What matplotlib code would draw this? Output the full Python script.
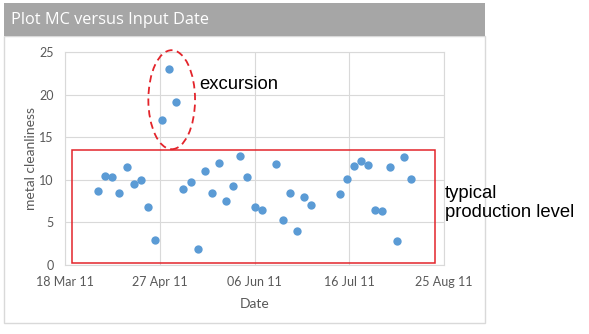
import matplotlib
matplotlib.use('Agg')
import matplotlib.pyplot as plt
import matplotlib.dates as mdates
from matplotlib.patches import Rectangle, Ellipse
import pandas as pd

# data
dates = ['2011-04-01', '2011-04-04', '2011-04-07', '2011-04-10', '2011-04-13', '2011-04-16',
         '2011-04-19', '2011-04-22', '2011-04-25', '2011-04-28', '2011-05-01', '2011-05-04',
         '2011-05-07', '2011-05-10', '2011-05-13', '2011-05-16', '2011-05-19', '2011-05-22',
         '2011-05-25', '2011-05-28', '2011-05-31', '2011-06-03', '2011-06-06', '2011-06-09',
         '2011-06-15', '2011-06-18', '2011-06-21', '2011-06-24', '2011-06-27', '2011-06-30',
         '2011-07-12', '2011-07-15', '2011-07-18', '2011-07-21', '2011-07-24', '2011-07-27',
         '2011-07-30', '2011-08-02', '2011-08-05', '2011-08-08', '2011-08-11']
cleanliness = [8.7, 10.5, 10.3, 8.4, 11.55, 9.5, 10.0, 6.8, 2.9, 17.0, 23.0, 19.1,
               8.9, 9.7, 1.9, 11.0, 8.4, 12.0, 7.5, 9.3, 12.85, 10.3, 6.8, 6.5,
               11.8, 5.25, 8.45, 3.95, 8.0, 7.1, 8.3, 10.15, 11.6, 12.25, 11.7, 6.4,
               6.3, 11.45, 2.85, 12.7, 10.1]
x_ticks = ['2011-03-18', '2011-04-27', '2011-06-06', '2011-07-16', '2011-08-25']
y_ticks = [0, 5, 10, 15, 20, 25]

W, H = 589, 334
fig = plt.figure(figsize=(W / 100, H / 100), dpi=100)


def px(x0, y0, x1, y1):
    """ pixel box (top-left origin) -> figure fraction rect """
    return [x0 / W, 1 - y1 / H, (x1 - x0) / W, (y1 - y0) / H]


# screenshot frame + grey title bar
fig.patches.append(Rectangle((4 / W, 1 - 323 / H), 481 / W, 287 / H, transform=fig.transFigure,
                             facecolor='white', edgecolor='#d9d9d9', lw=1, zorder=-2))
fig.patches.append(Rectangle((4 / W, 1 - 36 / H), 481 / W, 33 / H, transform=fig.transFigure,
                             facecolor='#a6a6a6', edgecolor='none', zorder=-1))
fig.text(11 / W, 1 - 20 / H, 'Plot MC versus Input Date', color='white', fontsize=11.8,
         family='Open Sans', va='center', ha='left')

ax = fig.add_axes(px(65, 52, 444, 265))
ax.patch.set_alpha(0)
ax.scatter(pd.to_datetime(dates), cleanliness, s=36, color='#5b9bd5', zorder=3, linewidths=0)

ax.set_xlim(pd.Timestamp(x_ticks[0]), pd.Timestamp(x_ticks[-1]))
ax.set_ylim(y_ticks[0], y_ticks[-1])
ax.set_xticks(pd.to_datetime(x_ticks))
ax.set_yticks(y_ticks)
ax.xaxis.set_major_formatter(mdates.DateFormatter('%d %b %y'))
ax.grid(True, color='#d9d9d9', lw=0.8)
ax.set_axisbelow(True)
for s in ax.spines.values():
    s.set_color('#d9d9d9')
    s.set_linewidth(0.8)
ax.tick_params(length=0, labelsize=9, labelcolor='#595959')
ax.tick_params(axis='y', pad=8)
ax.tick_params(axis='x', pad=8)
for lab in ax.get_xticklabels() + ax.get_yticklabels():
    lab.set_family('Lato')
ax.set_xlabel('Date', color='#595959', fontsize=10, family='Lato', labelpad=7)
ax.set_ylabel('metal cleanliness', color='#595959', fontsize=10, family='Lato', labelpad=2)

# annotations
ax.add_patch(Rectangle((7 / 379, 2.3 / 213), 363 / 379, 112.7 / 213, transform=ax.transAxes,
                       fill=False, edgecolor='#e3242b', lw=1.1, clip_on=False, zorder=4))
ax.add_patch(Ellipse(((171.7 - 65) / 379, (265 - 99.7) / 213), 46.7 / 379, 99 / 213,
                     transform=ax.transAxes, fill=False, edgecolor='#e3242b', lw=1.3,
                     ls=(0, (4, 2.5)), clip_on=False, zorder=4))
fig.text(199 / W, 1 - 85 / H, 'excursion', fontsize=13.3, family='Liberation Sans',
         va='center', ha='left')
fig.text(445 / W, 1 - 203 / H, 'typical\nproduction level', fontsize=13.3,
         family='Liberation Sans', va='center', ha='left', linespacing=1.15)

fig.savefig('out.png', dpi=100)
